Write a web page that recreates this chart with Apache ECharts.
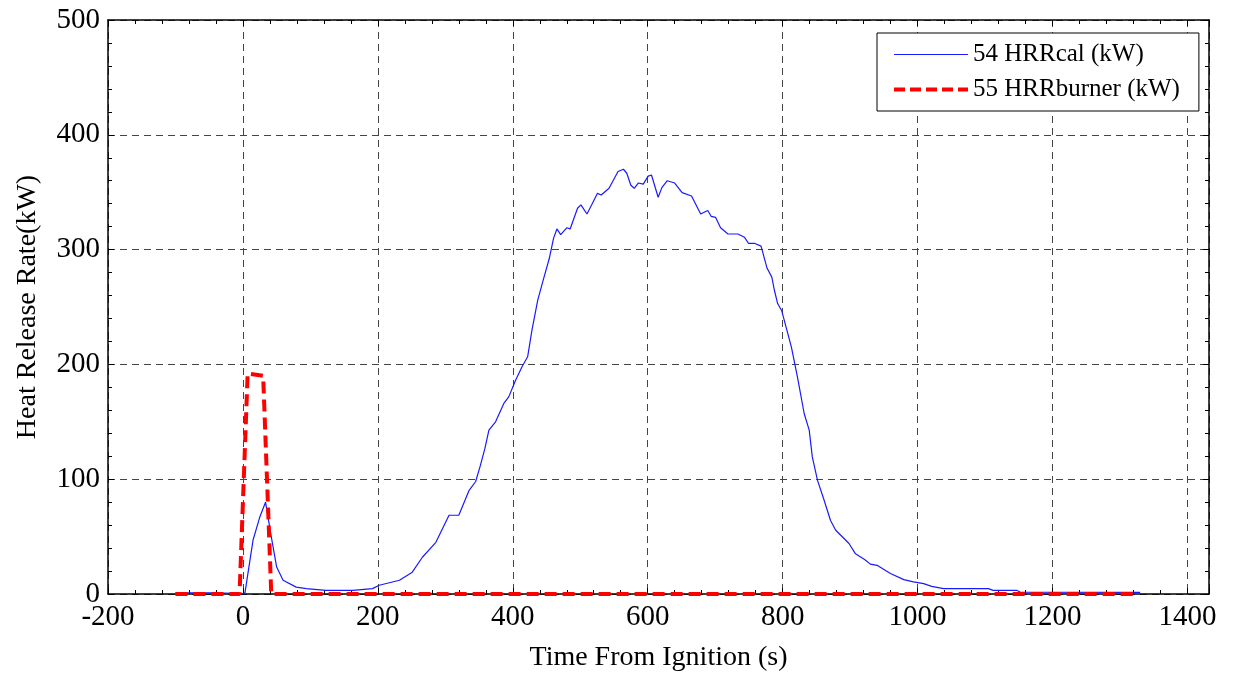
<!DOCTYPE html>
<html>
<head>
<meta charset="utf-8">
<script src="https://cdn.jsdelivr.net/npm/echarts@6/dist/echarts.min.js"></script>
<style>
html,body{margin:0;padding:0;background:#fff;}
#chart{width:1233px;height:675px;}
</style>
</head>
<body>
<div id="chart"></div>
<script>
// Series 1: 54 HRRcal (kW)
const calTime = [-100, -50, -10, 0, 3, 15, 25, 33.5, 42, 50, 59.5, 79, 94, 123, 163, 165, 192, 202, 232, 251, 266, 286, 305.5, 320, 335, 345, 352, 358.7, 364.6, 374.5, 386.7, 394, 404, 413.7, 422, 428.5, 437, 445.8, 454, 460.5, 465.4, 471, 480, 485, 496, 501, 510, 517, 525.5, 531, 542.7, 556, 564, 569, 575, 580, 586, 593.4, 600.7, 605.6, 615.5, 621, 629, 640, 651, 665, 678.5, 689, 694, 700.7, 708, 719, 733.6, 743.5, 749.4, 758, 768, 777, 784, 787.7, 792.6, 798.5, 813, 822, 832, 839.4, 844, 851.7, 861.5, 871, 878.7, 898.4, 908, 921.5, 930, 940, 959.8, 979.6, 994, 1009, 1021, 1038.6, 1105, 1112, 1147, 1152, 1330];
const calHRR  = [1, 1, 0.5, 0, 1, 47, 67, 80, 50, 23.5, 12, 6, 4.7, 3.2, 3.2, 4.7, 4.7, 7.6, 12, 19, 32, 45, 68.6, 68.6, 90, 98, 112, 126.8, 142.7, 150, 166, 171.7, 186, 198, 206.6, 230, 256, 275, 292, 310, 318, 313, 319, 318, 336, 339, 331, 339, 349, 347.6, 353.4, 368, 370, 366.5, 356, 353.4, 358, 357, 364, 365, 345.6, 354, 360, 358, 349.6, 346.7, 331, 334, 329, 328, 319, 313.6, 313.6, 310.7, 305.5, 305.5, 303, 283.7, 276, 264.8, 253, 247, 215, 189, 157, 142.7, 119.4, 99, 81.7, 64, 55.5, 44, 35, 30, 26, 25, 17.8, 12.5, 10.5, 9, 6.7, 4.7, 4.7, 3.2, 3.2, 1.7, 1.5];
// Series 2: 55 HRRburner (kW)
const burnerTime = [-100, -5, 7, 30, 42, 1325];
const burnerHRR  = [0, 0, 192, 190, 0, 0];

const seriesNames = ['54 HRRcal (kW)', '55 HRRburner (kW)'];
const xTitle = 'Time From Ignition (s)';
const yTitle = 'Heat Release Rate(kW)';

const pairs = (xs, ys) => xs.map((x, i) => [x, ys[i]]);
const FONT = 'Liberation Serif';
const BLUE = '#1a1aff', RED = '#ff0000';

const chart = echarts.init(document.getElementById('chart'));
const gridLine = {show: true, lineStyle: {color: '#444', width: 1, type: [7, 5]}};
const tick = {show: true, inside: true, length: 6, lineStyle: {color: '#000'}};
const minor = {show: true, splitNumber: 5, length: 4, lineStyle: {color: '#000'}};
const axisLineStyle = {show: true, onZero: false, lineStyle: {color: '#000', width: 1.5}};

chart.setOption({
  animation: false,
  backgroundColor: '#fff',
  grid: {left: 108, right: 24, top: 20, bottom: 81, containLabel: false, outerBoundsMode: 'none'},
  legend: {
    data: [
      {name: seriesNames[0], lineStyle: {color: BLUE, width: 1.2, type: 'solid'}},
      {name: seriesNames[1], lineStyle: {color: RED, width: 4, type: [11, 5]}}
    ],
    orient: 'vertical',
    left: 877, top: 33,
    itemWidth: 74, itemHeight: 14, itemGap: 10,
    padding: [9, 19, 9, 15],
    itemStyle: {opacity: 0},
    borderColor: '#000', borderWidth: 1, backgroundColor: '#fff',
    textStyle: {fontFamily: FONT, fontSize: 25, color: '#000'}
  },
  xAxis: [{
    type: 'value', min: -200, max: 1432, interval: 200,
    position: 'bottom',
    name: xTitle, nameLocation: 'middle', nameGap: 50,
    nameTextStyle: {fontFamily: FONT, fontSize: 28, color: '#000'},
    axisLine: axisLineStyle, axisTick: tick, minorTick: minor,
    splitLine: gridLine,
    axisLabel: {fontFamily: FONT, fontSize: 29, color: '#000', margin: 9, showMaxLabel: false,
      formatter: v => (v % 200 === 0 ? String(v) : '')}
  }, {
    type: 'value', min: -200, max: 1432, interval: 200,
    position: 'top',
    axisLine: axisLineStyle, axisTick: tick, minorTick: minor,
    splitLine: {show: false}, axisLabel: {show: false}
  }],
  yAxis: [{
    type: 'value', min: 0, max: 500, interval: 100,
    position: 'left',
    name: yTitle, nameLocation: 'middle', nameGap: 66,
    nameTextStyle: {fontFamily: FONT, fontSize: 28, color: '#000'},
    axisLine: axisLineStyle, axisTick: tick, minorTick: minor,
    splitLine: gridLine,
    axisLabel: {fontFamily: FONT, fontSize: 29, color: '#000', margin: 8}
  }, {
    type: 'value', min: 0, max: 500, interval: 100,
    position: 'right',
    axisLine: axisLineStyle, axisTick: tick, minorTick: minor,
    splitLine: {show: false}, axisLabel: {show: false}
  }],
  series: [{
    name: seriesNames[0], type: 'line', data: pairs(calTime, calHRR),
    showSymbol: false, symbol: 'none', z: 3,
    lineStyle: {color: BLUE, width: 1.2},
    itemStyle: {color: BLUE}
  }, {
    name: seriesNames[1], type: 'line', data: pairs(burnerTime, burnerHRR),
    showSymbol: false, symbol: 'none', z: 4,
    lineStyle: {color: RED, width: 4, type: [12, 6]},
    itemStyle: {color: RED}
  }]
});
</script>
</body>
</html>
